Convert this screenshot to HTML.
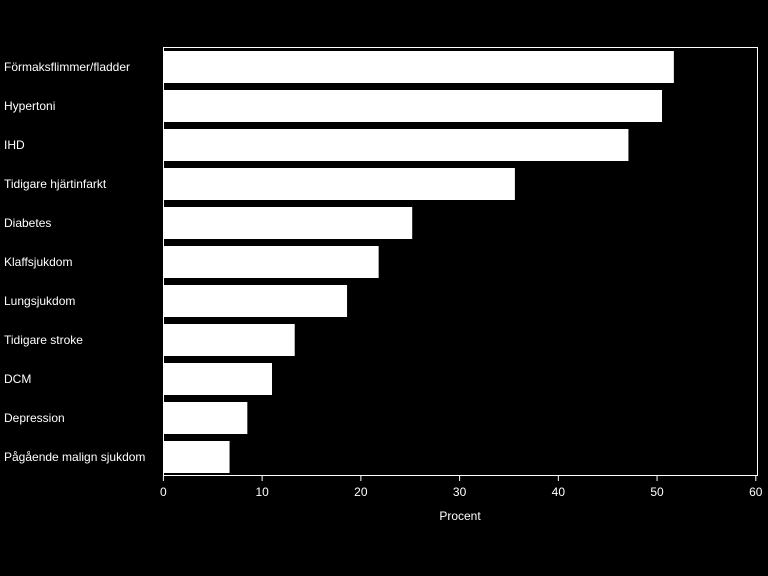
<!DOCTYPE html>
<html><head><meta charset="utf-8"><style>
html,body{margin:0;padding:0;background:#000;}
svg{display:block;font-family:"Liberation Sans",Arial,sans-serif;}
</style></head><body>
<svg id="chart" width="768" height="576" xmlns="http://www.w3.org/2000/svg">
<rect x="0" y="0" width="768" height="576" fill="#000"/>
<g id="bars"></g>
<rect x="163.5" y="47.5" width="594" height="428" fill="none" stroke="#fff" stroke-width="1"/>
<g id="labels"></g>
<g id="xaxis"></g>
<text x="460" y="520" fill="#fff" font-size="12" text-anchor="middle">Procent</text>
</svg>
<script>
const categories=["Förmaksflimmer/fladder","Hypertoni","IHD","Tidigare hjärtinfarkt","Diabetes","Klaffsjukdom","Lungsjukdom","Tidigare stroke","DCM","Depression","Pågående malign sjukdom"];
const values=[51.7,50.5,47.1,35.6,25.2,21.8,18.6,13.3,11.0,8.5,6.7];
const ticks=[0,10,20,30,40,50,60];
const NS="http://www.w3.org/2000/svg";
const x0=163.4,x1=755.8,xmax=60;
function xs(v){return x0+(x1-x0)*v/xmax;}
function yb(i){return 51+39*i;}
const bh=32;
const gb=document.getElementById('bars'),gl=document.getElementById('labels'),gx=document.getElementById('xaxis');
categories.forEach((c,i)=>{
 const r=document.createElementNS(NS,'rect');
 
 
 r.setAttribute('x',xs(0));r.setAttribute('y',yb(i));
 r.setAttribute('width',xs(values[i])-xs(0));r.setAttribute('height',bh);
 r.setAttribute('fill','#fff');gb.appendChild(r);
 const t=document.createElementNS(NS,'text');
 
 
 t.setAttribute('x',4);t.setAttribute('y',yb(i)+bh/2+4);
 t.setAttribute('fill','#fff');t.setAttribute('font-size','12');
 t.textContent=c;gl.appendChild(t);
});
ticks.forEach(v=>{
 const l=document.createElementNS(NS,'line');
 
 
 l.setAttribute('x1',xs(v));l.setAttribute('x2',xs(v));
 l.setAttribute('y1',475);l.setAttribute('y2',481);
 l.setAttribute('stroke','#fff');gx.appendChild(l);
 const t=document.createElementNS(NS,'text');
 
 
 t.setAttribute('x',xs(v));t.setAttribute('y',496);
 t.setAttribute('fill','#fff');t.setAttribute('font-size','12');
 t.setAttribute('text-anchor','middle');
 t.textContent=v;gx.appendChild(t);
});
</script>
</body></html>
